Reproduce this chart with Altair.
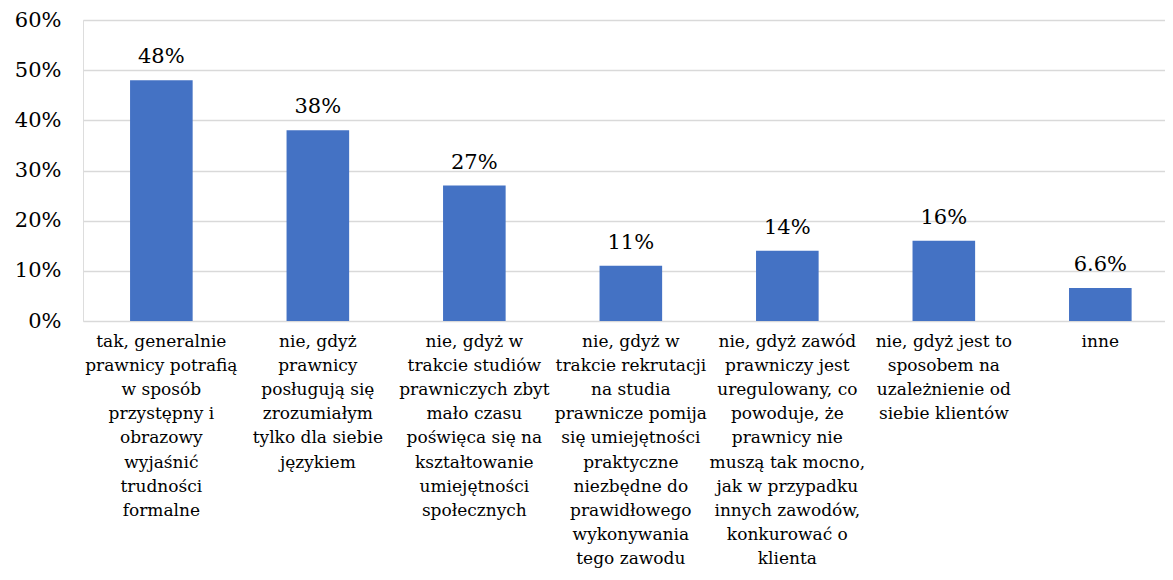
import altair as alt
import pandas as pd

categories = [
    "tak, generalnie\nprawnicy potrafią\nw sposób\nprzystępny i\nobrazowy\nwyjaśnić\ntrudności\nformalne",
    "nie, gdyż\nprawnicy\nposługują się\nzrozumiałym\ntylko dla siebie\njęzykiem",
    "nie, gdyż w\ntrakcie studiów\nprawniczych zbyt\nmało czasu\npoświęca się na\nkształtowanie\numiejętności\nspołecznych",
    "nie, gdyż w\ntrakcie rekrutacji\nna studia\nprawnicze pomija\nsię umiejętności\npraktyczne\nniezbędne do\nprawidłowego\nwykonywania\ntego zawodu",
    "nie, gdyż zawód\nprawniczy jest\nuregulowany, co\npowoduje, że\nprawnicy nie\nmuszą tak mocno,\njak w przypadku\ninnych zawodów,\nkonkurować o\nklienta",
    "nie, gdyż jest to\nsposobem na\nuzależnienie od\nsiebie klientów",
    "inne",
]
values_pct = [48, 38, 27, 11, 14, 16, 6.6]
y_ticks = [0, 0.1, 0.2, 0.3, 0.4, 0.5, 0.6]

df = pd.DataFrame({
    "cat": categories,
    "value": [v / 100 for v in values_pct],
    "label": [f"{v:g}%" for v in values_pct],
})

FONT = "DejaVu Serif"

x_enc = alt.X(
    "cat:N",
    sort=None,
    title=None,
    scale=alt.Scale(paddingInner=0.6, paddingOuter=0.257, align=0.585),
    axis=alt.Axis(
        labelAngle=0,
        labelLimit=0,
        labelExpr="split(datum.label, '\\n')",
        labelFontSize=17,
        labelLineHeight=24.2,
        labelPadding=12,
        labelBaseline="top",
        labelColor="#000000",
        labelFont=FONT,
        ticks=False,
        domain=False,
    ),
)

y_enc = alt.Y(
    "value:Q",
    title=None,
    scale=alt.Scale(domain=[0, 0.6], nice=False),
    axis=alt.Axis(
        values=y_ticks,
        format=".0%",
        labelFontSize=21,
        labelFont=FONT,
        labelColor="#000000",
        labelPadding=22,
        ticks=False,
        domain=False,
        grid=True,
        gridColor="#d9d9d9",
        gridWidth=1.4,
    ),
)

bars = alt.Chart(df).mark_bar(color="#4472C4").encode(x=x_enc, y=y_enc)

text = alt.Chart(df).mark_text(
    font=FONT, fontSize=21, color="#000000", baseline="alphabetic", dy=-17
).encode(x=alt.X("cat:N", sort=None), y="value:Q", text="label:N")

chart = (
    alt.layer(bars, text)
    .properties(
        width=1082,
        height=301,
        autosize=alt.AutoSizeParams(type="none"),
        padding={"left": 75, "top": 12, "right": 0, "bottom": 251},
    )
    .configure_view(stroke=None)
    .configure(font=FONT)
)

chart.save("out.html", embed_options={"renderer": "svg", "actions": False})
